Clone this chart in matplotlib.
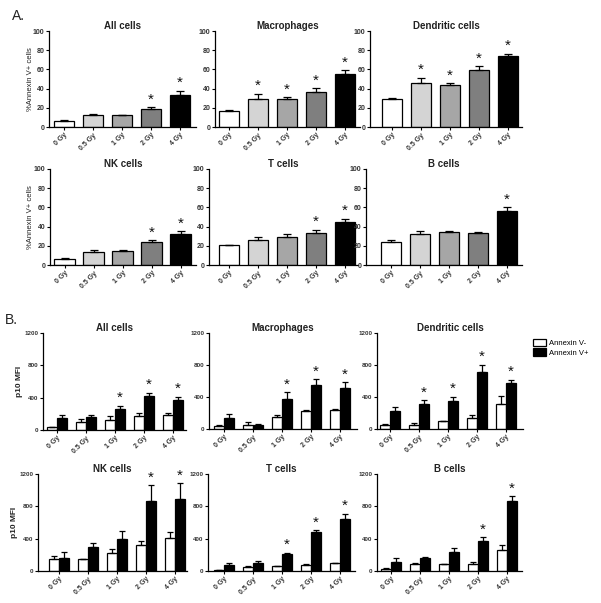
import numpy as np
import matplotlib
matplotlib.use("Agg")
import matplotlib.pyplot as plt

plt.rcParams["font.family"] = ["Liberation Sans", "DejaVu Sans"]

doses = ["0 Gy", "0.5 Gy", "1 Gy", "2 Gy", "4 Gy"]
bar_colors = ["white", "#d4d4d4", "#a6a6a6", "#7f7f7f", "black"]

# Panel A: % Annexin V+ cells (mean, SEM, significance)
a_titles = ["All cells", "Macrophages", "Dendritic cells", "NK cells", "T cells", "B cells"]
a_mean = [
    [6.3, 12.2, 12.2, 18.8, 33.8],
    [16.4, 29.6, 28.9, 36.6, 55.0],
    [29.3, 46.3, 43.9, 59.2, 73.5],
    [6.6, 13.6, 14.6, 24.0, 32.0],
    [20.9, 26.5, 29.3, 33.8, 45.0],
    [24.0, 32.0, 34.1, 33.8, 56.0],
]
a_err = [
    [0.5, 1.5, 0.8, 1.7, 3.8],
    [1.0, 5.2, 2.1, 3.8, 3.9],
    [1.0, 4.9, 1.7, 4.2, 2.8],
    [1.1, 2.1, 1.1, 2.0, 3.2],
    [0.3, 3.1, 2.7, 3.1, 3.0],
    [1.8, 3.2, 1.7, 1.0, 3.9],
]
a_star = [
    [0, 0, 0, 1, 1],
    [0, 1, 1, 1, 1],
    [0, 1, 1, 1, 1],
    [0, 0, 0, 1, 1],
    [0, 0, 0, 1, 1],
    [0, 0, 0, 0, 1],
]

# Panel B: p10 MFI for Annexin V- and V+ cells
b_neg = [
    [35, 95, 124, 174, 182],
    [42, 50, 154, 221, 242],
    [54, 50, 100, 142, 308],
    [145, 150, 224, 316, 407],
    [12, 54, 58, 79, 95],
    [29, 91, 83, 91, 257],
]
b_neg_err = [
    [5, 42, 46, 33, 25],
    [8, 37, 21, 21, 8],
    [8, 25, 4, 33, 109],
    [42, 4, 46, 54, 71],
    [3, 8, 8, 8, 9],
    [8, 9, 4, 21, 67],
]
b_pos = [
    [149, 157, 261, 426, 372],
    [142, 54, 375, 550, 508],
    [221, 308, 354, 708, 575],
    [158, 299, 390, 860, 893],
    [79, 100, 212, 478, 640],
    [108, 166, 232, 369, 868],
]
b_pos_err = [
    [33, 25, 41, 37, 38],
    [45, 8, 87, 75, 79],
    [54, 54, 50, 96, 42],
    [83, 46, 100, 203, 195],
    [25, 25, 16, 29, 66],
    [58, 8, 58, 46, 54],
]
b_star = [
    [0, 0, 1, 1, 1],
    [0, 0, 1, 1, 1],
    [0, 1, 1, 1, 1],
    [0, 0, 0, 1, 1],
    [0, 0, 1, 1, 1],
    [0, 0, 0, 1, 1],
]

W, H = 601, 603
fig = plt.figure(figsize=(W / 100, H / 100), dpi=100)

SP = 29.0  # px between category centres


def make_ax(left, right, top, bottom, c0):
    ax = fig.add_axes([left / W, 1 - bottom / H, (right - left) / W, (bottom - top) / H])
    ax.set_xlim((left - c0) / SP, (right - c0) / SP)
    for s in ["top", "right"]:
        ax.spines[s].set_visible(False)
    for s in ["left", "bottom"]:
        ax.spines[s].set_linewidth(0.9)
    ax.tick_params(axis="both", length=2.2, width=0.8, pad=1.2)
    ax.set_xticks(range(len(doses)))
    ax.set_xticklabels(doses, rotation=45, ha="right", rotation_mode="anchor",
                       fontsize=5, fontweight="bold", color="#333333")
    return ax


def style_y(ax, size):
    for lab in ax.get_yticklabels():
        lab.set_fontsize(size)
        lab.set_fontweight("bold")
        lab.set_color("#333333")


def star(ax, xx, yy):
    ax.annotate("*", (xx, yy), xytext=(0, 0.5), textcoords="offset points",
                ha="center", va="bottom", fontsize=11, color="#111111")


# axes boxes in pixels: left, right, top(ymax), bottom(0), first centre
a_boxes = [
    (49, 196, 31, 127, 64), (215, 360, 31, 127, 229), (370, 522, 31, 127, 392),
    (50, 196, 169, 265, 64.5), (209, 358, 169, 265, 229), (366, 522, 169, 265, 391),
]
b_boxes = [
    (43, 186, 333, 430, 57), (209, 357, 333, 429, 224), (377, 523, 333, 429, 390),
    (38, 187, 474, 571, 59), (208, 355, 474, 571, 224), (377, 522, 474, 571, 391),
]

x = np.arange(len(doses))

for i, box in enumerate(a_boxes):
    ax = make_ax(*box)
    ax.set_ylim(0, 100)
    ax.set_yticks([0, 20, 40, 60, 80, 100])
    style_y(ax, 5)
    ax.bar(x, a_mean[i], width=0.69, color=bar_colors, edgecolor="black", linewidth=0.9, zorder=2)
    ax.errorbar(x, a_mean[i], yerr=[np.zeros(5), a_err[i]], fmt="none", ecolor="black",
                elinewidth=0.9, capsize=3, capthick=0.9, zorder=3)
    for j in range(5):
        if a_star[i][j]:
            star(ax, x[j], a_mean[i][j] + a_err[i][j])
    ax.set_title(a_titles[i], fontsize=7, fontweight="bold", pad=1, color="#222222")
    if i % 3 == 0:
        ax.set_ylabel("%Annexin V+ cells", fontsize=5.5, color="#222222")
        ax.yaxis.set_label_coords((34 - box[0]) / (box[1] - box[0]), 0.5)

bw = 0.35
for i, box in enumerate(b_boxes):
    ax = make_ax(*box)
    ax.set_ylim(0, 1200)
    ax.set_yticks([0, 400, 800, 1200])
    style_y(ax, 4.5)
    ax.bar(x - bw / 2, b_neg[i], width=bw, color="white", edgecolor="black", linewidth=0.9,
           zorder=2, label="Annexin V-")
    ax.bar(x + bw / 2, b_pos[i], width=bw, color="black", edgecolor="black", linewidth=0.9,
           zorder=2, label="Annexin V+")
    ax.errorbar(x - bw / 2, b_neg[i], yerr=[np.zeros(5), b_neg_err[i]], fmt="none",
                ecolor="black", elinewidth=0.9, capsize=2.5, capthick=0.9, zorder=3)
    ax.errorbar(x + bw / 2, b_pos[i], yerr=[np.zeros(5), b_pos_err[i]], fmt="none",
                ecolor="black", elinewidth=0.9, capsize=2.5, capthick=0.9, zorder=3)
    for j in range(5):
        if b_star[i][j]:
            star(ax, x[j] + bw / 2, b_pos[i][j] + b_pos_err[i][j])
    ax.set_title(a_titles[i], fontsize=7, fontweight="bold", pad=1, color="#222222")
    if i % 3 == 0:
        ax.set_ylabel("p10 MFI", fontsize=6, fontweight="bold", color="#222222")
        ax.yaxis.set_label_coords((box[0] - 20 - box[0]) / (box[1] - box[0]), 0.5)
    if i == 2:
        ax.legend(loc="upper left", bbox_to_anchor=(1.05, 0.97), frameon=False, fontsize=5.5,
                  handlelength=1.6, handleheight=1.1, handletextpad=0.5, labelspacing=0.15,
                  borderaxespad=0)

fig.text(12 / W, 1 - 16 / H, "A.", fontsize=10, va="center", ha="left", color="#222222")
fig.text(5 / W, 1 - 320 / H, "B.", fontsize=10, va="center", ha="left", color="#222222")

fig.savefig("out.png", dpi=100, facecolor="white")
